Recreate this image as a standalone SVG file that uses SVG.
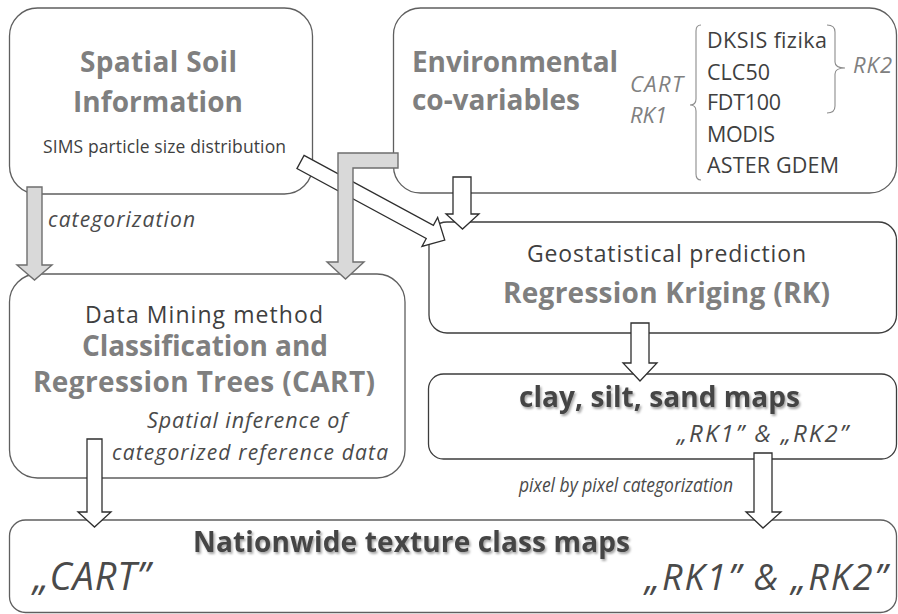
<svg xmlns="http://www.w3.org/2000/svg" width="898" height="614" viewBox="0 0 898 614">
  <style>
    .box { fill: #ffffff; stroke: #5f5f5f; stroke-width: 1.3; }
    .box-dark { fill: #ffffff; stroke: #3c3c3c; stroke-width: 1.3; }
    .arrow-grey { fill: #d9d9d9; stroke: #6e6e6e; stroke-width: 1.4; stroke-linejoin: miter; }
    .arrow-white { fill: #ffffff; stroke: #2e2e2e; stroke-width: 1.3; stroke-linejoin: miter; }
    .brace { fill: none; stroke: #8c8c8c; stroke-width: 1.1; }
    text { font-family: "Open Sans", Lato, "Liberation Sans", sans-serif; }
    .title { font-weight: 700; fill: #7f7f7f; }
    .plain { fill: #3f3f3f; }
    .note { font-style: italic; fill: #4a4a4a; }
    .tag { font-style: italic; fill: #808080; }
    .heavy { font-weight: 700; fill: #454545; filter: url(#shadow); }
  </style>
  <defs>
    <filter id="shadow" x="-5%" y="-30%" width="110%" height="160%">
      <feDropShadow dx="1.5" dy="2" stdDeviation="1.2" flood-color="#000000" flood-opacity="0.35"/>
    </filter>
  </defs>

  <!-- Spatial Soil Information -->
  <g id="soil-info">
    <rect class="box" x="9.5" y="8" width="303" height="186" rx="28"/>
    <text class="title" x="80" y="72" font-size="28" textLength="157">Spatial Soil</text>
    <text class="title" x="73" y="112" font-size="28" textLength="170">Information</text>
    <text class="plain" x="43" y="153" font-size="17.5" textLength="243">SIMS particle size distribution</text>
  </g>

  <!-- Environmental co-variables -->
  <g id="env-covariables">
    <rect class="box" x="393.5" y="8" width="503" height="185" rx="27"/>
    <text class="title" x="412" y="72" font-size="28" textLength="206">Environmental</text>
    <text class="title" x="412" y="110" font-size="28" textLength="168">co-variables</text>
    <text class="tag" x="630" y="92" font-size="22" textLength="53">CART</text>
    <text class="tag" x="630" y="123" font-size="22" textLength="37">RK1</text>
    <path class="brace" d="M701,25 Q696,25 696,31 L696,99 Q696,105 690,105 Q696,105 696,111 L696,174 Q696,180 701,180"/>
    <text class="plain" x="707" y="48" font-size="21.5" textLength="120">DKSIS fizika</text>
    <text class="plain" x="707" y="80" font-size="21.5" textLength="63">CLC50</text>
    <text class="plain" x="707" y="110" font-size="21.5" textLength="74">FDT100</text>
    <text class="plain" x="707" y="142" font-size="21.5" textLength="68">MODIS</text>
    <text class="plain" x="707" y="173" font-size="21.5" textLength="132">ASTER GDEM</text>
    <path class="brace" d="M827,25 Q835,25 835,32 L835,62 Q835,68 845,68 Q835,68 835,74 L835,106 Q835,113 827,113"/>
    <text class="tag" x="853" y="73" font-size="22" textLength="39">RK2</text>
  </g>

  <!-- Geostatistical prediction -->
  <g id="regression-kriging">
    <rect class="box-dark" x="429" y="222" width="467.5" height="111" rx="18"/>
    <text class="plain" x="527" y="262" font-size="23" textLength="279">Geostatistical prediction</text>
    <text class="title" x="503" y="303" font-size="28" textLength="327">Regression Kriging (RK)</text>
  </g>

  <!-- Data Mining method -->
  <g id="cart-method">
    <rect class="box" x="9.5" y="274" width="395.5" height="204" rx="28"/>
    <text class="plain" x="85" y="323" font-size="23" textLength="238">Data Mining method</text>
    <text class="title" x="82" y="356" font-size="28" textLength="246">Classification and</text>
    <text class="title" x="33" y="392" font-size="28" textLength="342">Regression Trees (CART)</text>
    <text class="note" x="147" y="428" font-size="21.5" textLength="200">Spatial inference of</text>
    <text class="note" x="112" y="460" font-size="21" textLength="276">categorized reference data</text>
  </g>

  <!-- clay, silt, sand maps -->
  <g id="fraction-maps">
    <rect class="box-dark" x="428.5" y="374" width="468" height="85" rx="15"/>
    <text class="heavy" x="519" y="407" font-size="28" textLength="281">clay, silt, sand maps</text>
    <text class="note" x="677" y="442" font-size="24" textLength="171">„RK1” &amp; „RK2”</text>
  </g>

  <!-- Nationwide texture class maps -->
  <g id="texture-maps">
    <rect class="box" x="9.5" y="520" width="887" height="92.5" rx="16"/>
    <text class="heavy" x="193" y="552" font-size="28" textLength="437">Nationwide texture class maps</text>
    <text class="note" x="33" y="590" font-size="38" textLength="117">„CART”</text>
    <text class="note" x="645" y="590" font-size="36" textLength="242">„RK1” &amp; „RK2”</text>
  </g>

  <!-- step labels -->
  <g id="labels">
    <text class="note" x="48" y="227" font-size="21" textLength="147">categorization</text>
    <text class="note" x="519" y="492" font-size="20" textLength="214" lengthAdjust="spacingAndGlyphs">pixel by pixel categorization</text>
  </g>

  <!-- connectors -->
  <g id="connectors">
    <polygon class="arrow-white" transform="translate(300.5,162) rotate(28.4)" points="0,-7.5 147,-7.5 147,-16.5 164,0 147,16.5 147,7.5 0,7.5"/>
    <polygon class="arrow-grey" points="27,187 42,187 42,265 52,265 34.5,280 17,265 27,265"/>
    <polygon class="arrow-grey" points="398,153 398,168 353,168 353,262 364,262 345.5,279 327,262 338,262 338,153"/>
    <polygon class="arrow-white" points="453,177 471,177 471,214 479,214 462.5,229 446,214 453,214"/>
    <polygon class="arrow-white" points="631,323 649,323 649,363 657,363 640,381 623,363 631,363"/>
    <polygon class="arrow-white" points="87,439 102,439 102,512 111,512 94.5,527 78,512 87,512"/>
    <polygon class="arrow-white" points="754,453 772,453 772,512 781,512 763,528 746,512 754,512"/>
  </g>
</svg>
